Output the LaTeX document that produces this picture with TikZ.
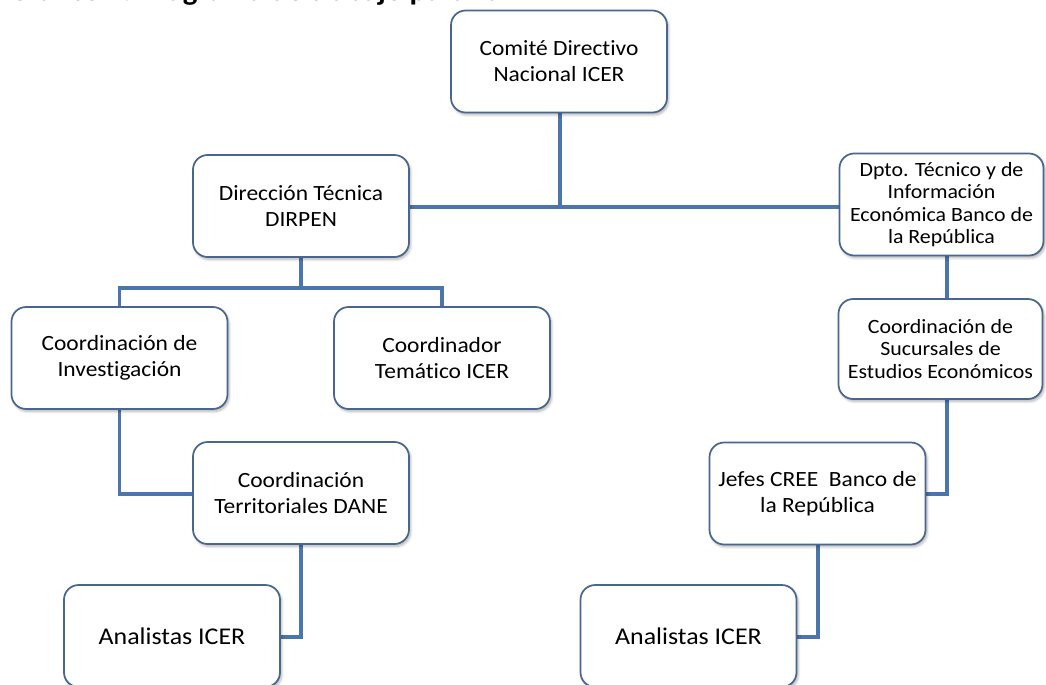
\documentclass[tikz,border=0pt]{standalone}
\usepackage{fontspec}
\setmainfont{Carlito}[FakeStretch=1.08, Ligatures=NoCommon]
\usetikzlibrary{shadows.blur}
\definecolor{boxline}{RGB}{72,102,142}
\definecolor{linkline}{RGB}{74,118,172}
\tikzset{
  box/.style={draw=boxline, line width=1.3pt, fill=white, rounded corners=11pt,
    align=center, inner sep=2pt, minimum width=162pt, minimum height=76.5pt,
    font=\fontsize{16.3}{19.5}\selectfont,
    blur shadow={shadow xshift=1.2pt, shadow yshift=-1.8pt, shadow blur steps=6, shadow opacity=30}},
  bankbox/.style={box, minimum width=153pt, font=\fontsize{15.2}{16.9}\selectfont},
  leafbox/.style={box, font=\fontsize{18}{21.6}\selectfont},
  link/.style={draw=linkline, line width=2.3pt}
}
\begin{document}
\begin{tikzpicture}[x=0.75pt, y=-0.75pt]
      \useasboundingbox (0,0) rectangle (1046,685);
      \clip (0,0) rectangle (1046,685);
      \node[anchor=base west, inner sep=0pt, font=\bfseries\fontsize{21.5}{26}\selectfont]
        (titulo) at (8,1) {Gráfico 1. Diagrama de trabajo para ICER};
      \coordinate (bus) at (301,288);
      \coordinate (rtrunk) at (947,0);
      \begin{scope}[link]
        \draw (560,113) -- (560,207);
        \draw (409,207) -- (840,207);
        \draw (301,257) -- (bus);
        \draw (119.5,307) |- (bus) -| (442,307);
        \draw (119.5,409) |- (193,494);
        \draw (301,544) |- (279,637);
        \draw (947,256) -- (947,299);
        \draw (947,399) |- (926,494);
        \draw (818,545) |- (796,637);
      \end{scope}
      \draw
        (559,61.5) node[box] (comite) {Comité Directivo\\Nacional ICER}
        (301,206) node[box] (direccion) {Dirección Técnica\\DIRPEN}
        (941.5,204.5) node[bankbox] (dpto) {Dpto. Técnico y de\\Información\\Económica Banco de\\la República}
        (119.5,358) node[box] (coordinv) {Coordinación de\\Investigación}
        (442,358) node[box] (coordtem) {Coordinador\\Temático ICER}
        (301,493) node[box] (territ) {Coordinación\\Territoriales DANE}
        (940.5,349) node[bankbox, minimum height=75pt] (sucursales) {Coordinación de\\Sucursales de\\Estudios Económicos}
        (817.5,493.5) node[box] (jefes) {Jefes CREE\ \ Banco de\\la República}
        (172,636) node[leafbox] (analistasA) {Analistas ICER}
        (688.5,636) node[leafbox] (analistasB) {Analistas ICER};
    \end{tikzpicture}
\end{document}
